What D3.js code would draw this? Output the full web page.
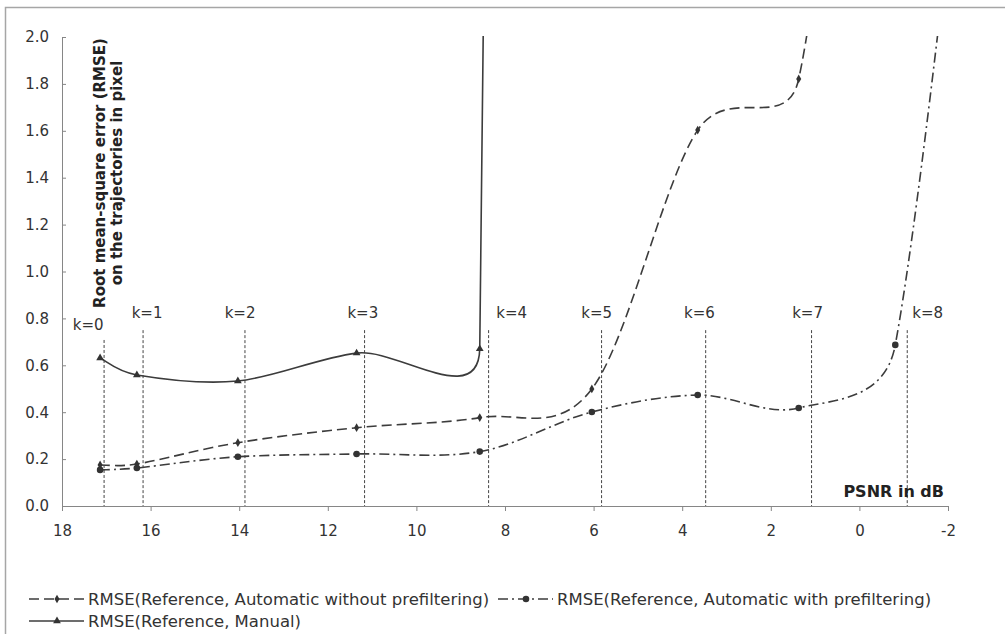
<!DOCTYPE html>
<html lang="en">
<meta charset="utf-8">
<head>
    <title>RMSE vs PSNR</title>
    <script type="text/javascript" src="https://cdn.jsdelivr.net/npm/d3@7"></script>
    <style>
        body { margin: 0; background: #fff; }
        svg { display: block; font-family: "DejaVu Sans", Verdana, sans-serif; }
        .axis path, .axis line { stroke: #868686; stroke-width: 1; }
        .axis text { fill: #333; font-size: 15px; font-family: "DejaVu Sans", Verdana, sans-serif; }
        .series { fill: none; stroke: #3c3c3c; stroke-width: 1.6; }
        .kline { stroke: #444; stroke-width: 1; stroke-dasharray: 3,2; }
        .klabel { fill: #333; font-size: 15px; text-anchor: middle; }
        .legend text { fill: #333; font-size: 16.5px; }
    </style>
</head>
<body>
<script>
    // PSNR (dB) measured at each noise level k
    const psnr = [17.14, 16.31, 14.03, 11.35, 8.57, 6.04, 3.65, 1.37, -0.81, -4.06];

    // RMSE values per series (last values run off the top of the chart)
    const rmseAutoNoPrefilter = [0.175, 0.179, 0.270, 0.334, 0.377, 0.499, 1.603, 1.821, 5.5];
    const rmseAutoPrefilter = [0.154, 0.162, 0.210, 0.222, 0.232, 0.401, 0.473, 0.418, 0.687, 6];
    const rmseManual = [0.631, 0.559, 0.533, 0.652, 0.670, 50];

    // k marker lines: position, top of line, label position and label height
    const kNames = ["k=0", "k=1", "k=2", "k=3", "k=4", "k=5", "k=6", "k=7", "k=8"];
    const kLinePsnr = [17.05, 16.17, 13.87, 11.17, 8.37, 5.82, 3.47, 1.08, -1.08];
    const kLineTop = [0.708, 0.75, 0.75, 0.75, 0.75, 0.75, 0.75, 0.75, 0.75];
    const kLabelPsnr = [17.41, 16.08, 13.98, 11.21, 7.85, 5.93, 3.61, 1.17, -1.54];
    const kLabelLevel = [0.751, 0.802, 0.802, 0.802, 0.802, 0.802, 0.802, 0.802, 0.802];

    const xTicks = [18, 16, 14, 12, 10, 8, 6, 4, 2, 0, -2];
    const yTicks = [0, 0.2, 0.4, 0.6, 0.8, 1.0, 1.2, 1.4, 1.6, 1.8, 2.0];

    const seriesNames = [
        "RMSE(Reference, Automatic without prefiltering)",
        "RMSE(Reference, Automatic with prefiltering)",
        "RMSE(Reference, Manual)"
    ];

    const width = 1005, height = 634;

    const svg = d3.select("body").append("svg")
        .attr("width", width)
        .attr("height", height);

    // outer chart frame
    svg.append("rect")
        .attr("x", 5.5).attr("y", 7.5)
        .attr("width", 1100).attr("height", 700)
        .attr("fill", "none")
        .attr("stroke", "#a6a6a6")
        .attr("stroke-width", 1.5);

    const x = d3.scaleLinear().domain([18, -2]).range([62, 948]);
    const y = d3.scaleLinear().domain([0, 2]).range([506, 37]);

    svg.append("defs").append("clipPath").attr("id", "plot")
        .append("rect")
        .attr("x", 62).attr("y", 36)
        .attr("width", 886).attr("height", 471);

    // axes
    svg.append("g")
        .attr("class", "axis")
        .attr("transform", `translate(0,${y(0)})`)
        .call(d3.axisBottom(x).tickValues(xTicks).tickSizeInner(5).tickSizeOuter(0).tickPadding(14).tickFormat(d => String(d)));

    svg.append("g")
        .attr("class", "axis")
        .attr("transform", `translate(${x(18)},0)`)
        .call(d3.axisLeft(y).tickValues(yTicks).tickSizeInner(-4).tickSizeOuter(0).tickPadding(13).tickFormat(d3.format(".1f")));

    // k lines and labels
    kNames.forEach((name, i) => {
        svg.append("line")
            .attr("class", "kline")
            .attr("x1", x(kLinePsnr[i])).attr("x2", x(kLinePsnr[i]))
            .attr("y1", y(kLineTop[i])).attr("y2", y(0));
        svg.append("text")
            .attr("class", "klabel")
            .attr("x", x(kLabelPsnr[i]))
            .attr("y", y(kLabelLevel[i]))
            .text(name);
    });

    // Excel-like smoothed line: bezier with handles capped at half the segment
    function smoothPath(pts) {
        const p = d3.path();
        const dist = (a, b) => Math.hypot(b[0] - a[0], b[1] - a[1]);
        p.moveTo(pts[0][0], pts[0][1]);
        for (let i = 0; i < pts.length - 1; i++) {
            const p0 = pts[Math.max(i - 1, 0)], p1 = pts[i], p2 = pts[i + 1],
                p3 = pts[Math.min(i + 2, pts.length - 1)];
            const d12 = dist(p1, p2), d02 = dist(p0, p2), d13 = dist(p1, p3);
            const f0 = d02 > 0 ? Math.min(1 / 6, d12 / 2 / d02) : 0;
            const f1 = d13 > 0 ? Math.min(1 / 6, d12 / 2 / d13) : 0;
            p.bezierCurveTo(
                p1[0] + f0 * (p2[0] - p0[0]), p1[1] + f0 * (p2[1] - p0[1]),
                p2[0] - f1 * (p3[0] - p1[0]), p2[1] - f1 * (p3[1] - p1[1]),
                p2[0], p2[1]);
        }
        return p.toString();
    }

    const diamond = d3.symbol().type(d3.symbolDiamond).size(22);
    const circle = d3.symbol().type(d3.symbolCircle).size(34);
    const triangle = d3.symbol().type(d3.symbolTriangle).size(26);

    const series = [
        { values: rmseAutoNoPrefilter, dash: "10,5", marker: diamond },
        { values: rmseAutoPrefilter, dash: "10,4,2,4", marker: circle },
        { values: rmseManual, dash: null, marker: triangle }
    ];

    const plot = svg.append("g").attr("clip-path", "url(#plot)");

    series.forEach(s => {
        const pts = s.values.map((v, i) => [x(psnr[i]), y(v)]);
        plot.append("path")
            .attr("class", "series")
            .attr("d", smoothPath(pts))
            .attr("stroke-dasharray", s.dash);
        plot.selectAll(null)
            .data(pts)
            .enter()
            .append("path")
            .attr("d", s.marker)
            .attr("transform", d => `translate(${d[0]},${d[1]})`)
            .attr("fill", "#333");
    });

    // axis titles
    const ytitle = svg.append("text")
        .attr("transform", "translate(105,173) rotate(-90)")
        .attr("text-anchor", "middle")
        .attr("font-weight", "bold")
        .attr("font-size", 15)
        .attr("fill", "#222");
    ytitle.append("tspan").attr("x", 0).attr("dy", 0).text("Root mean-square error (RMSE)");
    ytitle.append("tspan").attr("x", 0).attr("dy", 17).text("on the trajectories in pixel");

    svg.append("text")
        .attr("x", 944).attr("y", 497)
        .attr("text-anchor", "end")
        .attr("font-weight", "bold")
        .attr("font-size", 16)
        .attr("fill", "#222")
        .text("PSNR in dB");

    // legend
    const legendPos = [[29, 599], [498, 599], [29, 621]];
    const legend = svg.append("g").attr("class", "legend");
    series.forEach((s, i) => {
        const [lx, ly] = legendPos[i];
        legend.append("line")
            .attr("class", "series")
            .attr("x1", lx).attr("x2", lx + 55)
            .attr("y1", ly).attr("y2", ly)
            .attr("stroke-dasharray", s.dash);
        legend.append("path")
            .attr("d", s.marker)
            .attr("transform", `translate(${lx + 28},${ly})`)
            .attr("fill", "#333");
        legend.append("text")
            .attr("x", lx + 59)
            .attr("y", ly + 6)
            .text(seriesNames[i]);
    });
</script>
</body>
</html>
